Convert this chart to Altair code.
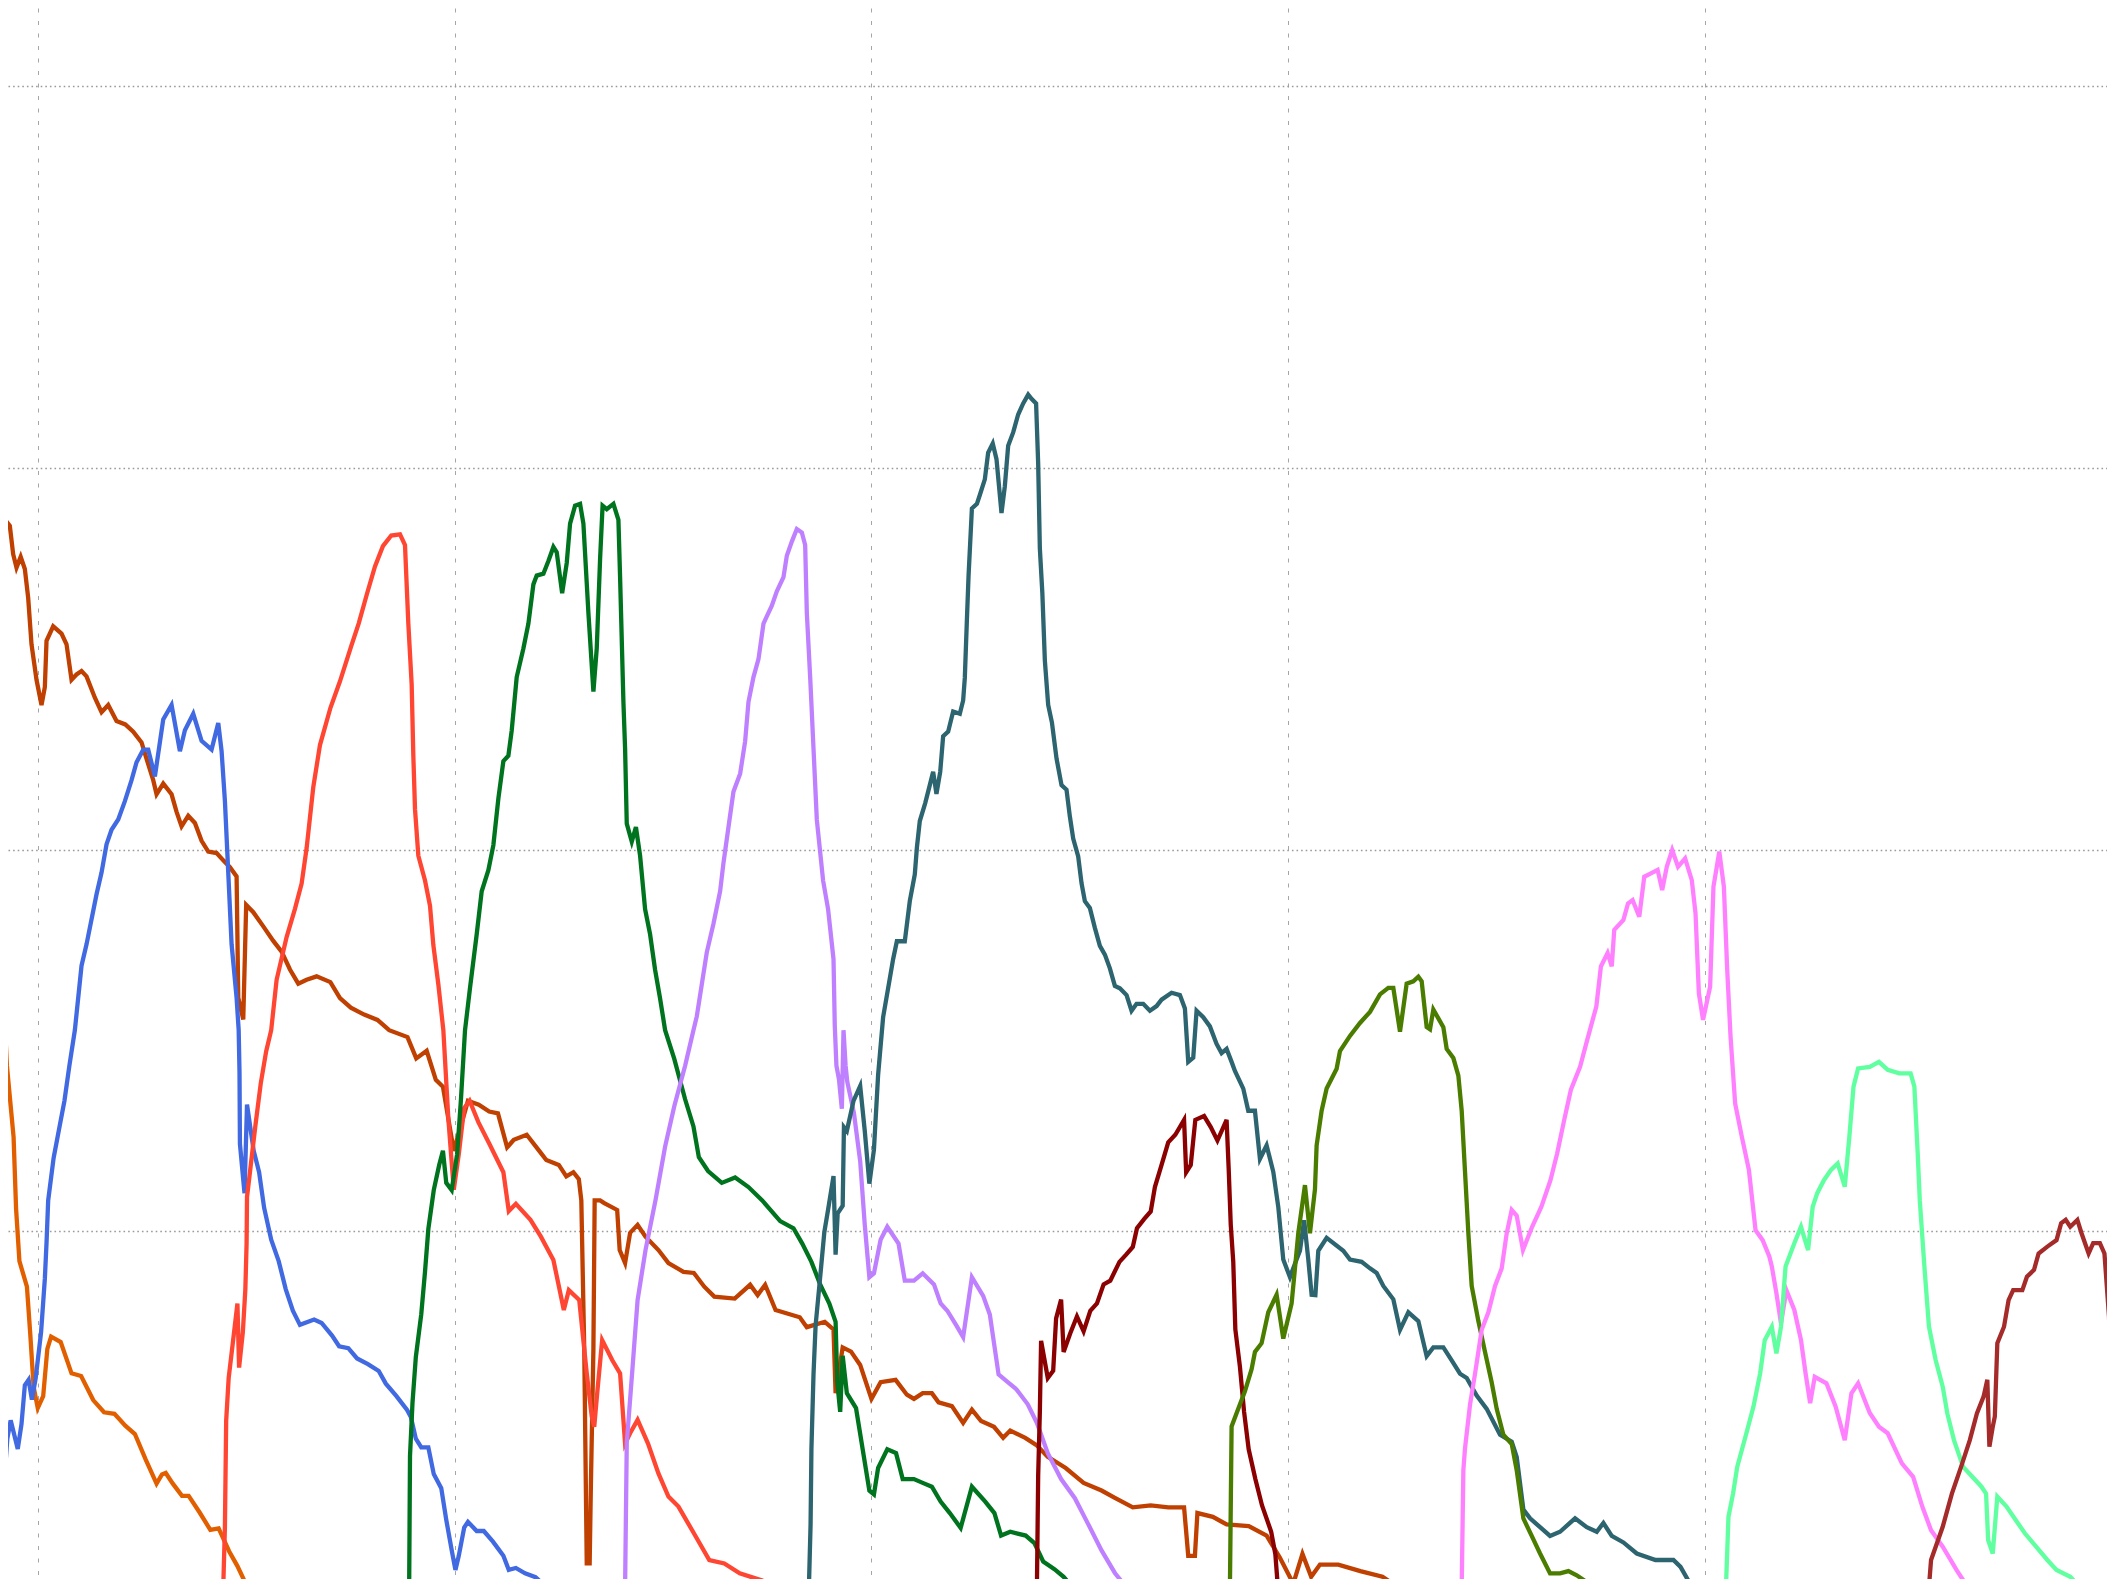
import altair as alt
import pandas as pd

# Gridline positions (data units)
x_grid = [100, 200, 300, 400, 500]
y_grid = [100, 200, 300, 400]

# Series (x, y) pairs
s_orange_left = [[90.0,210.6],[90.9,180.5],[92.6,143.4],[94.2,124.7],[94.8,105.9],[95.6,92.2],[97.4,85.5],[98.2,73.1],[99.0,59.3],[100.0,53.7],[101.3,56.8],[102.3,69.2],[103.2,72.4],[105.5,71.0],[108.1,62.8],[110.4,62.1],[113.3,55.8],[115.9,52.6],[118.4,52.2],[121.0,49.1],[123.3,46.9],[125.9,40.2],[128.5,33.9],[129.8,36.3],[130.7,36.7],[132.4,33.9],[134.6,30.7],[136.2,30.7],[138.8,26.4],[141.4,21.8],[143.4,22.2],[145.9,16.2],[147.9,12.3],[150.2,7.0],[152.4,0.0]]

s_rust = [[90.6,224.7],[91.2,285.5],[92.1,286.5],[93.3,284.8],[94.1,277.4],[94.9,273.9],[95.9,276.7],[96.9,273.5],[97.7,266.0],[98.5,253.8],[99.7,244.5],[100.9,237.9],[101.7,242.6],[102.1,254.7],[103.7,258.5],[105.7,256.6],[106.9,253.8],[108.1,244.5],[109.3,245.9],[110.5,246.8],[111.7,245.4],[113.7,239.8],[115.3,236.0],[116.9,237.9],[118.9,233.7],[121.0,232.8],[122.9,230.9],[124.9,228.1],[126.1,223.8],[127.7,218.2],[128.5,214.5],[130.1,217.3],[132.1,214.5],[133.3,209.9],[134.5,206.1],[136.1,208.9],[137.7,207.0],[139.3,202.3],[140.9,199.5],[142.9,199.1],[144.5,197.2],[146.1,195.4],[147.7,193.0],[148.1,161.2],[149.3,155.5],[150.0,185.5],[151.7,183.6],[154.1,179.9],[156.5,176.1],[158.5,173.3],[160.5,168.6],[162.5,164.9],[164.5,165.9],[166.9,166.8],[170.2,165.3],[172.5,161.1],[175.1,158.6],[178.3,156.8],[181.5,155.4],[184.3,152.7],[188.7,150.9],[190.8,145.3],[193.3,147.3],[195.5,139.7],[197.2,137.9],[199.8,121.1],[203.2,134.2],[205.8,133.2],[208.3,131.4],[210.4,130.9],[212.6,122.0],[214.2,124.0],[217.3,125.3],[220.3,121.1],[222.0,118.7],[225.0,117.4],[226.8,114.4],[228.5,115.5],[229.8,113.7],[230.4,108.1],[231.1,69.2],[231.7,13.0],[232.4,13.0],[232.7,33.9],[233.3,69.2],[233.6,108.1],[234.9,108.1],[235.9,107.4],[239.0,105.6],[239.6,95.1],[240.9,91.7],[242.1,99.6],[243.9,101.7],[245.8,98.6],[248.9,95.1],[251.3,91.7],[254.9,89.4],[257.4,89.1],[259.9,85.5],[262.3,82.9],[267.2,82.4],[270.9,86.0],[272.7,83.3],[274.5,86.0],[277.0,79.4],[282.8,77.5],[284.5,74.9],[288.8,76.3],[290.9,74.3],[291.4,57.6],[293.1,69.6],[295.1,68.5],[297.3,65.0],[300.0,56.1],[302.2,60.5],[305.8,61.1],[308.5,57.2],[310.2,56.1],[312.3,57.6],[314.5,57.6],[316.1,55.2],[319.3,54.2],[322.0,49.8],[324.1,53.3],[326.3,50.3],[329.4,48.8],[331.6,45.9],[333.3,47.8],[336.9,45.9],[339.7,43.9],[342.3,40.9],[346.6,38.0],[350.9,34.1],[355.2,32.1],[358.4,30.2],[362.7,27.7],[367.0,28.2],[371.2,27.7],[375.0,27.7],[376.0,15.0],[377.6,15.0],[378.2,26.2],[381.9,25.2],[385.2,23.2],[390.5,22.8],[394.8,20.3],[398.0,14.5],[401.2,7.7],[403.4,15.5],[405.5,9.5],[407.6,12.7],[412.0,12.7],[417.3,11.0],[422.6,9.5],[425.9,7.1],[430.7,2.1]]

s_blue = [[90.9,2.1],[91.4,13.1],[91.8,28.9],[92.2,38.2],[92.7,45.7],[93.5,50.5],[95.2,43.0],[96.1,49.5],[96.9,59.7],[97.8,61.1],[98.6,55.9],[99.5,61.5],[100.8,73.6],[101.7,87.6],[102.1,96.9],[102.5,108.1],[103.8,119.2],[105.1,126.7],[106.4,134.2],[107.6,143.5],[108.9,152.7],[110.5,169.6],[111.7,175.2],[114.1,188.3],[115.3,194.0],[116.5,201.4],[117.7,205.2],[119.3,207.9],[120.9,212.7],[122.5,218.2],[123.7,222.9],[125.3,226.2],[126.5,226.2],[128.1,219.2],[130.1,234.1],[132.1,237.9],[134.1,225.8],[135.3,231.3],[137.3,235.6],[139.3,228.5],[141.7,226.2],[143.3,233.2],[144.1,225.8],[144.9,212.7],[145.7,194.0],[146.5,175.2],[147.7,161.2],[148.2,152.7],[148.4,141.6],[148.5,122.9],[149.6,110.0],[150.2,133.2],[151.8,121.1],[153.1,115.5],[154.3,106.2],[156.0,97.8],[157.8,92.2],[159.5,84.8],[161.2,79.2],[162.9,75.5],[166.3,76.9],[168.1,76.0],[170.6,72.7],[172.3,69.9],[174.5,69.4],[176.6,66.7],[179.2,65.2],[181.8,63.4],[183.5,60.1],[186.0,56.9],[188.6,53.2],[189.5,51.4],[190.7,45.7],[192.0,43.4],[193.7,43.4],[195.0,36.4],[196.8,32.7],[198.0,24.4],[199.4,15.9],[200.2,11.3],[201.0,15.0],[202.3,22.4],[203.2,23.9],[205.3,21.5],[207.0,21.5],[209.2,18.7],[211.7,15.0],[213.0,11.3],[214.7,11.8],[216.9,10.4],[219.4,9.4],[222.0,6.8],[225.2,2.1]]

s_tomato = [[144.3,2.1],[144.5,6.8],[144.9,22.6],[145.2,50.4],[145.8,61.6],[146.6,69.0],[147.9,81.1],[148.3,64.3],[149.2,73.6],[149.8,84.8],[150.1,96.9],[150.2,109.0],[150.9,115.5],[152.2,127.6],[153.5,138.8],[154.8,147.2],[156.0,152.7],[157.3,165.9],[159.7,177.1],[161.7,184.5],[163.3,191.1],[164.5,200.4],[166.1,216.4],[167.7,227.4],[170.2,237.1],[172.5,244.1],[175.1,253.0],[177.0,259.3],[179.0,267.1],[180.9,274.2],[182.8,279.5],[184.8,282.3],[186.9,282.6],[188.1,279.8],[188.9,259.2],[189.7,243.3],[190.1,224.6],[190.5,210.6],[191.3,198.4],[192.9,191.9],[194.1,185.3],[194.9,175.0],[196.1,164.7],[197.3,152.7],[198.5,129.5],[199.8,110.9],[201.0,120.2],[202.3,132.3],[203.6,134.2],[205.7,128.6],[208.3,123.0],[211.7,115.5],[213.0,105.3],[214.7,107.2],[218.2,103.0],[220.7,98.6],[223.7,92.5],[226.2,79.4],[227.4,84.6],[229.9,82.0],[231.7,62.8],[232.9,51.5],[233.5,48.8],[234.2,57.5],[235.4,71.5],[237.8,66.3],[239.7,62.8],[240.9,44.4],[242.1,47.1],[243.9,50.6],[246.4,44.4],[248.9,36.6],[251.3,30.5],[253.7,27.9],[257.4,20.9],[261.1,13.9],[264.7,13.0],[268.4,10.4],[273.3,8.7],[278.2,6.9],[281.9,2.1]]

s_green = [[189.0,2.1],[189.1,6.8],[189.3,41.1],[189.9,55.1],[190.7,67.1],[192.0,78.3],[192.9,89.4],[193.7,100.6],[195.0,110.8],[196.3,117.4],[197.2,121.1],[198.0,112.7],[199.3,110.8],[200.6,120.2],[201.5,134.2],[202.5,152.7],[203.7,163.8],[205.3,177.8],[206.5,189.1],[208.1,194.6],[209.3,201.2],[210.5,213.4],[211.7,223.2],[212.9,224.6],[213.7,231.2],[214.9,245.2],[216.5,252.7],[217.7,259.2],[218.9,269.5],[219.7,271.8],[221.3,272.3],[222.5,275.6],[223.7,279.3],[224.5,277.9],[225.8,267.2],[226.9,275.1],[227.7,285.4],[228.9,290.1],[230.1,290.6],[230.9,285.4],[232.1,262.0],[233.3,241.4],[234.1,252.7],[234.9,276.1],[235.5,290.1],[236.5,289.2],[238.1,290.6],[239.3,286.4],[239.7,271.4],[240.5,238.6],[240.9,226.5],[241.3,206.8],[242.5,202.1],[243.5,205.9],[244.5,198.4],[245.7,184.4],[246.9,177.8],[248.1,168.5],[249.3,161.0],[250.5,152.7],[252.7,145.2],[255.3,134.6],[257.3,127.5],[258.6,119.4],[260.8,115.8],[264.1,112.7],[267.3,114.1],[270.5,111.6],[273.8,108.1],[278.1,102.7],[281.3,100.8],[283.4,96.8],[285.6,92.0],[287.7,86.1],[289.9,81.1],[291.4,76.3],[291.8,60.5],[292.5,52.7],[293.1,67.4],[294.1,57.6],[296.3,53.7],[297.9,42.9],[299.5,32.1],[300.6,31.1],[301.6,38.0],[303.8,42.9],[305.9,41.9],[307.5,35.1],[310.2,35.1],[312.3,34.1],[314.5,33.1],[316.6,29.2],[318.8,26.2],[321.4,22.3],[324.1,33.1],[327.3,29.2],[329.5,26.2],[331.1,20.3],[333.3,21.3],[337.0,20.3],[339.1,18.3],[341.2,13.5],[343.9,11.5],[346.1,9.5],[348.2,6.8],[349.8,2.1]]

s_purple = [[240.8,2.1],[240.9,6.9],[241.3,44.5],[242.7,64.5],[243.9,82.0],[245.8,95.1],[248.2,108.2],[250.5,122.2],[252.7,132.8],[255.3,143.4],[257.3,152.7],[258.1,156.3],[259.3,164.7],[260.5,173.1],[262.1,180.6],[263.7,189.1],[264.5,196.5],[265.7,205.9],[266.9,215.2],[268.5,219.9],[269.7,228.4],[270.5,238.7],[271.7,245.2],[272.9,249.9],[274.1,259.2],[274.9,261.1],[276.1,263.9],[277.3,267.7],[278.9,271.4],[279.7,277.0],[280.9,280.7],[282.1,284.0],[283.3,283.1],[284.1,279.8],[284.5,262.0],[285.3,245.2],[286.1,226.5],[286.9,207.8],[288.4,191.9],[289.6,184.4],[290.9,171.3],[291.2,154.0],[291.6,143.4],[292.2,139.9],[292.9,132.1],[293.3,152.7],[293.8,143.4],[294.2,139.2],[295.8,131.0],[297.3,118.4],[298.4,101.7],[299.5,88.0],[300.6,89.0],[302.2,97.8],[303.8,101.2],[306.5,96.8],[308.0,87.1],[310.2,87.1],[312.3,89.0],[315.0,86.1],[316.6,81.1],[318.2,79.2],[320.4,75.3],[322.0,72.3],[324.1,88.0],[326.8,83.1],[328.4,78.2],[330.5,62.5],[332.7,60.5],[334.8,58.6],[337.5,54.7],[339.7,49.8],[342.3,41.9],[345.5,35.1],[348.8,30.1],[352.0,23.3],[355.2,16.4],[358.4,10.5],[361.1,6.8],[363.4,2.1]]

s_teal = [[284.8,2.1],[285.0,6.8],[285.4,23.3],[285.6,42.9],[286.1,62.5],[286.6,75.3],[287.7,88.0],[288.7,99.8],[289.6,105.7],[290.9,114.5],[291.4,93.9],[291.9,104.7],[293.1,106.7],[293.4,127.3],[294.1,126.3],[295.7,134.2],[297.3,138.1],[298.4,126.3],[299.5,112.5],[300.6,121.4],[301.6,141.0],[302.8,156.1],[304.1,164.3],[305.2,171.3],[306.1,176.0],[308.0,176.0],[309.2,186.5],[310.4,193.5],[310.9,200.5],[311.6,207.5],[312.9,212.2],[314.0,216.9],[314.8,220.4],[315.6,214.6],[316.5,220.4],[317.2,229.7],[318.4,230.9],[319.6,236.2],[321.2,235.6],[322.0,239.1],[322.4,245.0],[322.9,260.2],[323.3,271.8],[324.1,289.4],[325.3,290.6],[326.0,292.9],[327.2,297.0],[328.0,304.0],[329.1,306.4],[330.0,302.3],[331.2,288.2],[332.0,295.2],[332.8,305.8],[334.0,309.3],[335.2,314.0],[336.4,316.9],[337.6,319.2],[338.4,318.1],[339.5,316.9],[340.0,301.1],[340.4,278.9],[341.0,267.2],[341.6,249.6],[342.4,237.9],[343.3,233.3],[344.4,223.9],[345.6,216.9],[346.8,215.7],[347.6,208.7],[348.4,202.9],[349.6,198.2],[350.4,191.2],[351.2,186.5],[352.4,184.7],[353.6,179.5],[354.8,174.8],[356.0,172.5],[357.2,168.9],[358.4,164.3],[359.6,163.7],[361.2,161.9],[362.4,157.8],[363.6,159.6],[365.2,159.6],[366.8,157.8],[368.4,159.0],[369.6,160.7],[372.0,162.5],[374.0,161.9],[375.2,158.4],[376.0,144.4],[377.2,145.5],[378.0,157.8],[379.6,156.1],[381.2,153.7],[382.8,149.1],[384.0,146.7],[385.2,147.8],[386.4,144.4],[387.2,142.0],[389.2,137.4],[390.4,131.6],[392.0,131.6],[393.2,119.0],[394.8,122.5],[396.4,115.6],[397.6,106.4],[398.8,92.6],[400.4,88.0],[401.6,91.5],[402.8,94.9],[403.8,102.9],[404.8,92.6],[405.6,83.4],[406.5,83.3],[407.2,94.9],[409.2,98.3],[413.2,94.9],[414.8,92.6],[417.6,92.0],[419.6,90.3],[421.2,89.1],[422.8,85.7],[425.2,82.2],[426.8,74.2],[428.8,78.8],[431.2,76.5],[433.2,67.3],[434.8,69.6],[437.2,69.6],[439.2,66.2],[441.2,62.7],[442.8,61.6],[445.2,57.0],[447.6,53.5],[450.8,46.7],[453.6,44.9],[454.8,40.9],[456.4,27.1],[458.0,24.8],[460.4,22.5],[462.8,20.2],[465.2,21.3],[468.8,24.8],[471.6,22.5],[474.0,21.3],[475.6,23.6],[477.6,20.2],[480.4,18.5],[483.6,15.6],[488.1,13.9],[492.4,13.9],[494.1,12.1],[496.8,6.9],[498.7,2.1]]

s_darkred = [[339.6,2.1],[339.7,6.8],[340.0,36.1],[340.4,52.7],[340.7,71.3],[342.3,61.6],[343.6,63.5],[344.3,77.2],[345.5,82.1],[346.1,68.4],[347.7,73.3],[349.3,77.7],[350.9,73.8],[352.5,79.2],[354.1,81.1],[355.7,86.1],[357.3,87.1],[359.5,92.0],[361.1,93.9],[362.7,95.9],[363.7,100.8],[365.4,103.2],[367.0,105.2],[368.0,111.6],[369.6,117.4],[371.2,123.3],[372.9,125.3],[375.0,129.2],[375.5,115.5],[376.6,117.4],[377.7,129.2],[379.8,130.2],[381.4,127.3],[383.0,123.8],[385.2,129.2],[385.7,116.4],[386.2,101.7],[386.8,92.0],[387.3,74.3],[388.4,64.5],[389.4,52.7],[390.5,42.9],[392.1,35.1],[393.7,28.2],[395.9,21.3],[396.9,15.4],[397.5,6.8],[397.7,2.1]]

s_olive = [[385.7,2.1],[386.0,6.6],[386.4,48.9],[388.0,53.5],[389.6,58.1],[391.2,63.9],[392.0,68.4],[393.6,70.7],[395.2,78.8],[397.2,83.4],[398.8,71.9],[400.8,81.1],[402.4,99.5],[404.0,112.1],[405.2,99.5],[406.4,111.0],[406.8,122.5],[408.0,131.6],[409.2,137.4],[411.6,142.6],[412.4,147.2],[414.8,151.2],[417.2,154.6],[419.6,157.5],[422.0,162.1],[424.0,163.8],[425.2,163.8],[426.8,152.3],[428.4,164.9],[430.0,165.5],[431.2,166.7],[432.0,165.5],[433.2,153.5],[434.0,152.9],[434.8,158.1],[436.0,155.8],[437.2,153.5],[438.0,147.8],[439.6,145.4],[440.8,140.8],[441.6,131.6],[442.4,115.6],[443.2,99.5],[444.0,85.7],[445.6,76.5],[447.2,68.4],[448.8,60.4],[450.0,53.5],[451.6,46.7],[453.6,44.3],[454.8,37.4],[456.4,24.8],[458.4,20.2],[460.4,15.6],[462.8,10.4],[465.2,10.4],[467.2,11.0],[469.2,9.9],[471.6,8.1],[473.2,6.6],[476.0,3.8]]

s_pink = [[441.6,2.1],[441.6,6.6],[442.0,37.4],[442.4,43.2],[443.6,54.6],[444.8,62.7],[446.4,74.2],[448.0,78.8],[449.6,85.7],[451.2,90.3],[452.4,99.5],[453.6,105.6],[454.8,104.1],[456.3,95.1],[458.5,101.2],[460.7,106.4],[462.9,113.4],[464.5,120.4],[466.2,129.2],[467.8,137.1],[470.0,143.1],[471.7,150.1],[473.9,158.9],[475.0,169.4],[476.6,172.9],[477.6,169.4],[478.2,179.0],[480.4,181.6],[481.5,185.9],[482.6,186.8],[484.2,182.4],[485.4,192.9],[487.0,193.8],[488.6,194.7],[489.7,189.4],[490.8,195.5],[492.1,199.9],[493.5,195.5],[495.2,197.7],[496.8,192.0],[497.7,183.3],[498.5,162.4],[499.5,155.4],[501.2,164.1],[502.0,190.3],[503.4,199.5],[504.5,190.3],[505.3,168.5],[506.1,151.0],[507.2,133.5],[508.8,124.8],[510.5,116.1],[512.1,100.3],[513.8,97.7],[515.4,93.4],[516.0,90.8],[517.1,83.8],[518.2,75.9],[519.5,84.6],[521.4,79.4],[523.0,71.5],[524.1,62.8],[525.2,55.0],[526.3,61.9],[529.1,60.2],[531.3,54.1],[533.5,45.3],[535.1,57.6],[536.7,60.2],[539.5,52.4],[541.7,48.8],[543.8,47.1],[547.2,39.2],[549.9,35.7],[552.1,27.9],[554.2,21.7],[557.0,17.4],[560.3,11.3],[562.4,7.8],[565.7,7.8],[567.9,6.9],[569.9,2.1]]

s_aqua = [[505.0,2.1],[505.0,6.9],[505.6,25.2],[506.7,31.3],[507.7,38.3],[509.9,47.1],[511.6,54.1],[513.2,62.8],[514.3,71.5],[516.0,75.0],[517.1,68.0],[518.2,75.0],[519.3,90.8],[521.4,96.9],[523.0,101.2],[524.7,95.1],[525.8,106.4],[526.9,110.0],[528.5,113.4],[530.2,116.1],[531.8,117.8],[533.5,111.7],[534.6,124.8],[535.6,137.9],[536.7,142.7],[539.5,143.1],[541.7,144.4],[543.8,142.3],[546.6,141.4],[549.3,141.4],[550.2,137.9],[551.0,120.4],[551.5,108.1],[552.6,90.8],[553.7,75.0],[555.3,66.3],[557.0,59.3],[558.1,52.3],[559.7,45.3],[561.9,38.3],[564.1,35.7],[566.3,33.1],[567.4,31.3],[567.9,19.1],[569.0,15.6],[570.1,30.5],[572.3,27.9],[574.5,24.4],[576.7,20.9],[579.4,17.4],[582.1,13.9],[584.3,11.3],[587.6,9.5],[589.8,6.9],[592.5,2.1]]

s_brown = [[553.5,2.1],[553.7,6.9],[554.2,13.9],[557.0,22.6],[559.2,31.3],[561.4,38.3],[563.5,45.3],[565.2,52.3],[566.8,56.7],[567.7,61.1],[568.2,43.6],[569.0,48.8],[569.5,51.5],[570.1,70.7],[571.7,75.0],[572.8,82.0],[573.9,84.6],[576.1,84.6],[577.2,88.1],[578.9,89.9],[580.0,94.2],[582.1,96.0],[584.3,97.7],[585.4,102.1],[586.5,103.0],[587.6,101.2],[589.3,103.0],[590.3,99.5],[592.0,94.2],[593.1,96.9],[594.7,96.9],[595.8,94.2],[596.9,77.6],[597.7,47.1],[598.3,29.6],[599.6,2.1]]

s_orange_right = [[597.0,2.1],[597.4,6.9],[598.3,20.9],[599.6,40.9]]

series_names = ["orange_left", "rust", "blue", "tomato", "green", "purple", "teal",
                "darkred", "olive", "pink", "aqua", "brown", "orange_right"]
series_points = [s_orange_left, s_rust, s_blue, s_tomato, s_green, s_purple, s_teal,
                 s_darkred, s_olive, s_pink, s_aqua, s_brown, s_orange_right]
series_colors = ["#E25F00", "#BF4000", "#4169E1", "#FF4633", "#00731F", "#BF80FF", "#2C6470",
                 "#8B0000", "#4A7C00", "#FF80FF", "#60FFA0", "#A52A2A", "#FF7F0E"]

rows = []
for name, pts in zip(series_names, series_points):
    for i, (xv, yv) in enumerate(pts):
        rows.append({"series": name, "x": xv, "y": yv, "i": i})
df = pd.DataFrame(rows)

W, H = 2099, 1571
x_dom = [92.86, 92.86 + W / 4.1684]
y_top = 420.5
y_dom = [y_top - H / 3.817, y_top]

chart = alt.Chart(df).mark_line(clip=True, strokeWidth=4.3).encode(
    x=alt.X("x:Q",
            scale=alt.Scale(domain=x_dom, nice=False, zero=False),
            axis=alt.Axis(values=x_grid, labels=False, ticks=False, domain=False, title=None,
                          grid=True, gridDash=[4, 8.5], gridColor="#a6a6a6", gridWidth=1)),
    y=alt.Y("y:Q",
            scale=alt.Scale(domain=y_dom, nice=False, zero=False),
            axis=alt.Axis(values=y_grid, labels=False, ticks=False, domain=False, title=None,
                          grid=True, gridDash=[1.6, 3], gridColor="#9a9a9a", gridWidth=1.4)),
    color=alt.Color("series:N", scale=alt.Scale(domain=series_names, range=series_colors), legend=None),
    detail="series:N",
    order="i:Q",
).properties(
    width=W, height=H,
    autosize=alt.AutoSizeParams(type="none"),
    padding=0,
).configure(background="white").configure_view(stroke=None, strokeWidth=0)

chart.save("out.html", embed_options={"renderer": "svg", "actions": False})
